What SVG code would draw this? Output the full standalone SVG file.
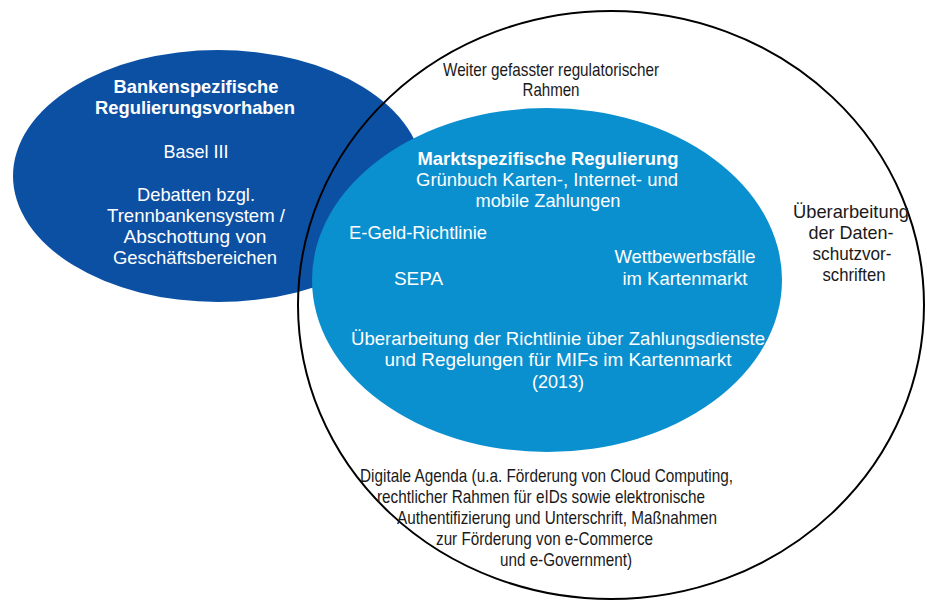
<svg xmlns="http://www.w3.org/2000/svg" width="927" height="601" viewBox="0 0 927 601">
<style>
text{font-family:"Liberation Sans",Arial,sans-serif;font-size:18.5px}
.w{fill:#ffffff}
.k{fill:#1a1a1a}
.b{font-weight:bold}
.c{text-anchor:middle}
</style>
<rect width="927" height="601" fill="#ffffff"/>
<g id="wider-frame">
<ellipse cx="611" cy="305" rx="313" ry="294" fill="#ffffff"/>
</g>
<g id="bank-specific">
<ellipse cx="218" cy="176" rx="205" ry="126" fill="#0c50a4"/>
</g>
<g id="wider-frame-outline">
<ellipse cx="611" cy="305" rx="313" ry="294" fill="none" stroke="#000" stroke-width="2"/>
</g>
<g id="market-specific">
<ellipse cx="547" cy="280" rx="235" ry="172" fill="#0a90cf"/>
</g>
<g id="bank-text">
<text class="w b c" x="196" y="93" textLength="165" lengthAdjust="spacingAndGlyphs">Bankenspezifische</text>
<text class="w b c" x="195" y="114" textLength="200" lengthAdjust="spacingAndGlyphs">Regulierungsvorhaben</text>
<text class="w c" x="196" y="158" textLength="65" lengthAdjust="spacingAndGlyphs">Basel III</text>
<text class="w c" x="196" y="201" textLength="118" lengthAdjust="spacingAndGlyphs">Debatten bzgl.</text>
<text class="w c" x="196" y="222" textLength="178" lengthAdjust="spacingAndGlyphs">Trennbankensystem /</text>
<text class="w c" x="195" y="243" textLength="143" lengthAdjust="spacingAndGlyphs">Abschottung  von</text>
<text class="w c" x="195" y="264" textLength="164" lengthAdjust="spacingAndGlyphs">Geschäftsbereichen</text>
</g>
<g id="wider-text">
<text class="k c" x="551" y="76" textLength="216" lengthAdjust="spacingAndGlyphs">Weiter gefasster regulatorischer</text>
<text class="k c" x="551" y="96" textLength="57" lengthAdjust="spacingAndGlyphs">Rahmen</text>
<text class="k c" x="851" y="218" textLength="116" lengthAdjust="spacingAndGlyphs">Überarbeitung</text>
<text class="k c" x="851" y="239" textLength="85" lengthAdjust="spacingAndGlyphs">der Daten-</text>
<text class="k c" x="852" y="260" textLength="79" lengthAdjust="spacingAndGlyphs">schutzvor-</text>
<text class="k c" x="854" y="281" textLength="63" lengthAdjust="spacingAndGlyphs">schriften</text>
<text class="k" x="360" y="482" textLength="373" lengthAdjust="spacingAndGlyphs">Digitale Agenda (u.a. Förderung von Cloud Computing,</text>
<text class="k" x="377" y="503" textLength="328" lengthAdjust="spacingAndGlyphs">rechtlicher Rahmen für eIDs sowie elektronische</text>
<text class="k" x="397" y="524" textLength="320" lengthAdjust="spacingAndGlyphs">Authentifizierung und Unterschrift, Maßnahmen</text>
<text class="k" x="436" y="545" textLength="217" lengthAdjust="spacingAndGlyphs">zur Förderung von e-Commerce</text>
<text class="k" x="500" y="566" textLength="132" lengthAdjust="spacingAndGlyphs">und e-Government)</text>
</g>
<g id="market-text">
<text class="w b c" x="548" y="165" textLength="261" lengthAdjust="spacingAndGlyphs">Marktspezifische Regulierung</text>
<text class="w c" x="547" y="186" textLength="262" lengthAdjust="spacingAndGlyphs">Grünbuch Karten-, Internet- und</text>
<text class="w c" x="548" y="207" textLength="145" lengthAdjust="spacingAndGlyphs">mobile Zahlungen</text>
<text class="w" x="349" y="239" textLength="138" lengthAdjust="spacingAndGlyphs">E-Geld-Richtlinie</text>
<text class="w" x="394" y="285" textLength="49" lengthAdjust="spacingAndGlyphs">SEPA</text>
<text class="w c" x="685" y="263" textLength="141" lengthAdjust="spacingAndGlyphs">Wettbewerbsfälle</text>
<text class="w c" x="685" y="285" textLength="125" lengthAdjust="spacingAndGlyphs">im Kartenmarkt</text>
<text class="w c" x="558" y="345" textLength="414" lengthAdjust="spacingAndGlyphs">Überarbeitung der Richtlinie über Zahlungsdienste</text>
<text class="w c" x="558" y="366" textLength="347" lengthAdjust="spacingAndGlyphs">und  Regelungen für MIFs im Kartenmarkt</text>
<text class="w c" x="558" y="388" textLength="52" lengthAdjust="spacingAndGlyphs">(2013)</text>
</g>
</svg>
